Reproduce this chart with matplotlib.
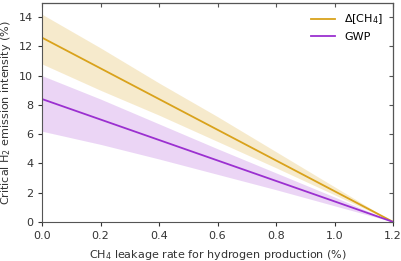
import matplotlib
matplotlib.use("Agg")
import matplotlib.pyplot as plt
import numpy as np

x = [0.0, 0.2, 0.4, 0.6, 0.8, 1.0, 1.2]
ch4_mid = [12.6, 10.5, 8.4, 6.3, 4.2, 2.1, 0.0]
ch4_hi = [14.2, 11.9, 9.5, 7.2, 4.8, 2.4, 0.0]
ch4_lo = [10.8, 9.0, 7.3, 5.5, 3.7, 1.85, 0.0]
gwp_mid = [8.4, 7.0, 5.6, 4.2, 2.8, 1.4, 0.0]
gwp_hi = [10.0, 8.4, 6.7, 5.0, 3.35, 1.7, 0.0]
gwp_lo = [6.2, 5.3, 4.3, 3.25, 2.2, 1.1, 0.0]

c_ch4 = '#d9a21b'
c_gwp = '#9b30d0'

fig = plt.figure(figsize=(4.01, 2.61), dpi=100)
ax = fig.add_axes([0.105, 0.15, 0.875, 0.84])
ax.fill_between(x, ch4_lo, ch4_hi, color=c_ch4, alpha=0.22, lw=0)
ax.fill_between(x, gwp_lo, gwp_hi, color=c_gwp, alpha=0.2, lw=0)
ax.plot(x, ch4_mid, color=c_ch4, lw=1.3, label='Δ[CH$_4$]')
ax.plot(x, gwp_mid, color=c_gwp, lw=1.3, label='GWP')
ax.set_xlim(0, 1.2)
ax.set_ylim(0, 15)
ax.set_yticks([0, 2, 4, 6, 8, 10, 12, 14])
ax.set_xticks([0.0, 0.2, 0.4, 0.6, 0.8, 1.0, 1.2])
ax.tick_params(labelsize=8, colors='#333333', length=3)
ax.set_xlabel('CH$_4$ leakage rate for hydrogen production (%)', fontsize=8, color='#333333', labelpad=5)
ax.set_ylabel('Critical H$_2$ emission intensity (%)', fontsize=8, color='#333333')
for s in ax.spines.values():
    s.set_color('#555555')
sx = ax.secondary_xaxis('top')
sx.set_xticks([0.0, 0.2, 0.4, 0.6, 0.8, 1.0, 1.2])
sx.tick_params(direction='in', labeltop=False, length=3, color='#555555')
sy = ax.secondary_yaxis('right')
sy.set_yticks([0, 2, 4, 6, 8, 10, 12, 14])
sy.tick_params(direction='in', labelright=False, length=3, color='#555555')
ax.legend(loc='upper right', frameon=False, fontsize=8, handlelength=2.2)
fig.savefig('out.png', dpi=100)
